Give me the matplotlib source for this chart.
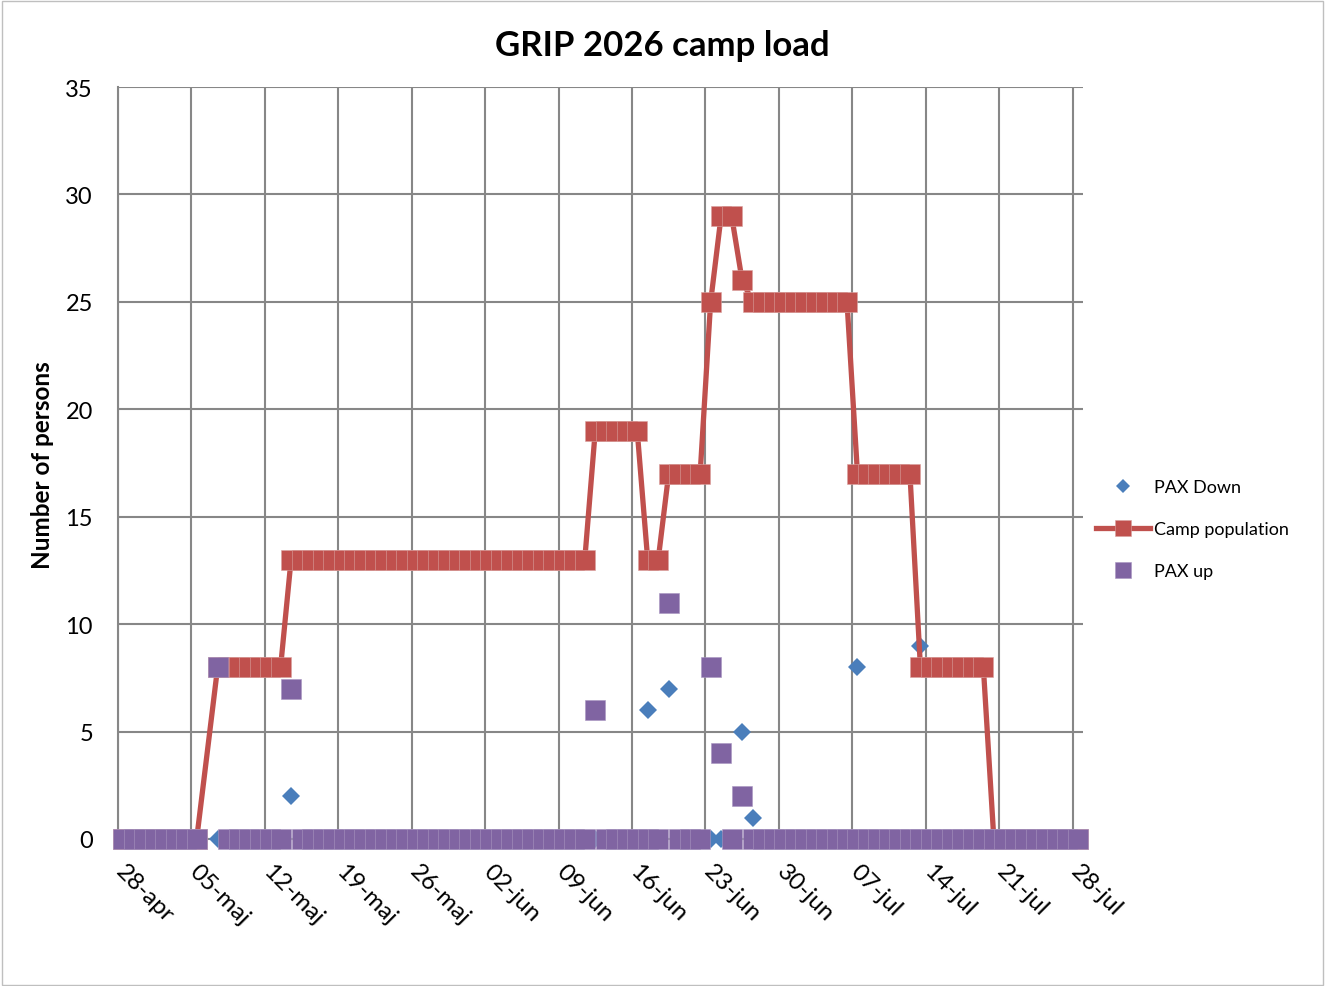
import numpy as np
import pandas as pd
import matplotlib
matplotlib.use("Agg")
import matplotlib.pyplot as plt
from matplotlib.patches import Rectangle
from matplotlib.transforms import ScaledTranslation

plt.rcParams["font.family"] = ["Lato", "DejaVu Sans"]

# Daily values 28-apr .. 28-jul 2026 (one row per week); 06-maj has no entry
start_date = "2026-04-28"
end_date = "2026-07-28"

camp_population = [
    0, 0, 0, 0, 0, 0, 0,
    0, None, 8, 8, 8, 8, 8,
    8, 8, 13, 13, 13, 13, 13,
    13, 13, 13, 13, 13, 13, 13,
    13, 13, 13, 13, 13, 13, 13,
    13, 13, 13, 13, 13, 13, 13,
    13, 13, 13, 19, 19, 19, 19,
    19, 13, 13, 17, 17, 17, 17,
    25, 29, 29, 26, 25, 25, 25,
    25, 25, 25, 25, 25, 25, 25,
    17, 17, 17, 17, 17, 17, 8,
    8, 8, 8, 8, 8, 8, 0,
    0, 0, 0, 0, 0, 0, 0,
    0,
]

pax_up = [
    0, 0, 0, 0, 0, 0, 0,
    0, None, 8, 0, 0, 0, 0,
    0, 0, 7, 0, 0, 0, 0,
    0, 0, 0, 0, 0, 0, 0,
    0, 0, 0, 0, 0, 0, 0,
    0, 0, 0, 0, 0, 0, 0,
    0, 0, 0, 6, 0, 0, 0,
    0, 0, 0, 11, 0, 0, 0,
    8, 4, 0, 2, 0, 0, 0,
    0, 0, 0, 0, 0, 0, 0,
    0, 0, 0, 0, 0, 0, 0,
    0, 0, 0, 0, 0, 0, 0,
    0, 0, 0, 0, 0, 0, 0,
    0,
]

pax_down = [
    0, 0, 0, 0, 0, 0, 0,
    0, None, 0, 0, 0, 0, 0,
    0, 0, 2, 0, 0, 0, 0,
    0, 0, 0, 0, 0, 0, 0,
    0, 0, 0, 0, 0, 0, 0,
    0, 0, 0, 0, 0, 0, 0,
    0, 0, 0, 0, 0, 0, 0,
    0, 6, 0, 7, 0, 0, 0,
    0, 0, 0, 5, 1, 0, 0,
    0, 0, 0, 0, 0, 0, 0,
    8, 0, 0, 0, 0, 0, 9,
    0, 0, 0, 0, 0, 0, 0,
    0, 0, 0, 0, 0, 0, 0,
    0,
]

tick_labels = ["28-apr", "05-maj", "12-maj", "19-maj", "26-maj", "02-jun", "09-jun",
               "16-jun", "23-jun", "30-jun", "07-jul", "14-jul", "21-jul", "28-jul"]

BLUE = "#4a7ebb"
RED = "#c0504d"
PURPLE = "#8064a2"
GRID = "#878787"

days = pd.date_range(start_date, end_date, freq="D")
df = pd.DataFrame({"camp": camp_population, "up": pax_up, "down": pax_down},
                  index=days, dtype=float).dropna()
# Excel puts each point in the middle of its day
x = df.index + pd.Timedelta(hours=12)

fig = plt.figure(figsize=(13.25, 9.87), dpi=100)
ax = fig.add_axes([118 / 1325, 1 - 840 / 987, (1083 - 118) / 1325, (840 - 88) / 987])

ax.plot(x, df["down"], linestyle="none", marker="D", markersize=9.3,
        color=BLUE, markeredgewidth=0, label="PAX Down", clip_on=False, zorder=3)
ax.plot(x, df["camp"], color=RED, linewidth=3.8, marker="s", markersize=14.5,
        markeredgecolor="#d9a19f", markeredgewidth=0.4, label="Camp population",
        clip_on=False, zorder=4)
ax.plot(x, df["up"], linestyle="none", marker="s", markersize=14.5, color=PURPLE,
        markeredgecolor="#a896c0", markeredgewidth=0.4, label="PAX up",
        clip_on=False, zorder=5)

ticks = pd.date_range(start_date, end_date, freq="7D")
ax.set_xticks(ticks)
ax.set_xticklabels(tick_labels)
ax.set_xlim(pd.Timestamp(start_date), pd.Timestamp(end_date) + pd.Timedelta(days=1))
ax.set_ylim(0, 35)
ax.set_yticks(range(0, 36, 5))

ax.grid(True, color=GRID, linewidth=1.5)
ax.set_axisbelow(True)
for side in ["top", "right"]:
    ax.spines[side].set_visible(False)
for side in ["left", "bottom"]:
    ax.spines[side].set_color(GRID)
    ax.spines[side].set_linewidth(1.5)

ax.tick_params(axis="both", length=0, labelsize=17)
ax.tick_params(axis="y", pad=18)
ax.tick_params(axis="x", pad=15)
shift = ScaledTranslation(9 / 100, 0, fig.dpi_scale_trans)
for lab in ax.get_xticklabels():
    lab.set_rotation(-45)
    lab.set_rotation_mode("anchor")
    lab.set_ha("left")
    lab.set_va("top")
    lab.set_fontsize(17.5)
    lab.set_transform(lab.get_transform() + shift)

fig.text(0.5, 1 - 46 / 987, "GRIP 2026 camp load", ha="center", va="center",
         fontsize=25, fontweight="bold")
fig.text(43 / 1325, 1 - 465 / 987, "Number of persons", rotation=90,
         ha="center", va="center", fontsize=17.5, fontweight="bold")

fig.legend(loc="center left", bbox_to_anchor=(1096 / 1325, 1 - 530 / 987),
           frameon=False, fontsize=13, handlelength=3.0, handletextpad=0.2,
           labelspacing=1.45, borderpad=0, borderaxespad=0, markerscale=0.8)

fig.patches.append(Rectangle((0.0015, 0.001), 0.997, 0.997, transform=fig.transFigure,
                             fill=False, edgecolor="#bfbfbf", linewidth=1))

fig.savefig("out.png", dpi=100)
